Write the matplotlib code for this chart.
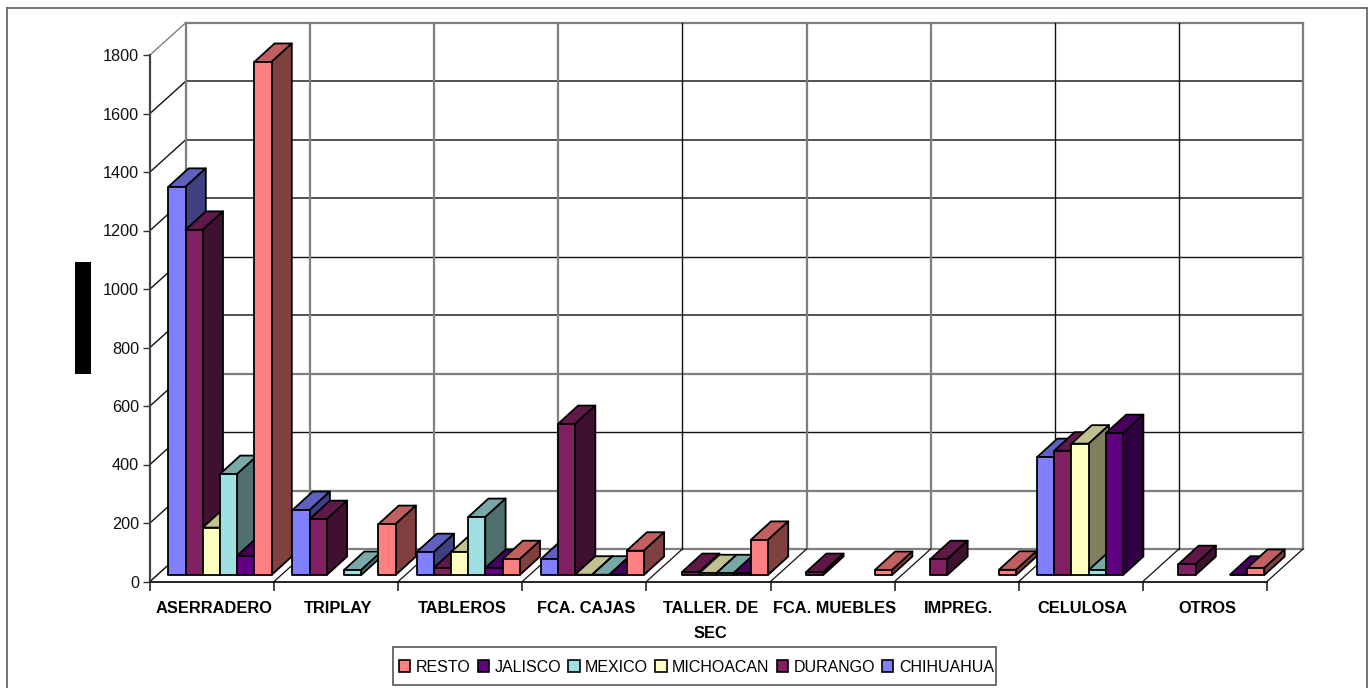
import matplotlib
matplotlib.use('Agg')
import matplotlib.pyplot as plt
from matplotlib.lines import Line2D
from matplotlib.patches import Patch, Rectangle

plt.rcParams['font.family'] = ['Liberation Sans', 'DejaVu Sans']

categories = ['ASERRADERO', 'TRIPLAY', 'TABLEROS', 'FCA. CAJAS', 'TALLER. DE\nSEC',
              'FCA. MUEBLES', 'IMPREG.', 'CELULOSA', 'OTROS']
yticks = [0, 200, 400, 600, 800, 1000, 1200, 1400, 1600, 1800]

chihuahua = [1327, 222, 78, 54, 0, 0, 0, 403, 0]
durango = [1180, 191, 24, 516, 10, 10, 54, 425, 37]
michoacan = [162, 0, 78, 1, 6, 0, 0, 449, 0]
mexico = [345, 17, 198, 1, 6, 0, 0, 17, 0]
jalisco = [66, 0, 24, 1, 6, 0, 0, 485, 1]
resto = [1754, 174, 54, 83, 120, 17, 18, 0, 24]

# nombre, valores, frente, lado, tapa
series = [
    ('CHIHUAHUA', chihuahua, '#8080FF', '#404080', '#6060C0'),
    ('DURANGO', durango, '#802060', '#401030', '#601848'),
    ('MICHOACAN', michoacan, '#FFFFC0', '#808060', '#C0C090'),
    ('MEXICO', mexico, '#A0E0E0', '#507070', '#78A8A8'),
    ('JALISCO', jalisco, '#600080', '#300040', '#480060'),
    ('RESTO', resto, '#FF8080', '#804040', '#C06060'),
]

W, H = 1371, 688
# plano frontal en pixeles
X0, X1, Y0, Y1 = 150, 1267, 581.5, 55
px_x = (X1 - X0) / 9
px_y = (Y0 - Y1) / 1800

fig = plt.figure(figsize=(W / 100, H / 100), dpi=100)
ax = fig.add_axes([X0 / W, 1 - Y0 / H, (X1 - X0) / W, (Y0 - Y1) / H])
ax.set_xlim(0, 9)
ax.set_ylim(0, 1800)
ax.patch.set_visible(False)

# profundidad de la pared y de las barras
wall_dx, wall_dy = 36 / px_x, 32.5 / px_y
bar_dx, bar_dy = 20.3 / px_x, 18.5 / px_y
base = 6.5 / px_y
start = 18.3 / px_x
bw = 17.2 / px_x

GRAY = '#7f7f7f'
DARK = '#111111'

# paredes y rejilla
for v in yticks:
    if v in (0, 200, 600, 1800):
        c, lw = GRAY, 1.6
    elif v in (400, 1000):
        c, lw = DARK, 1.0
    else:
        c, lw = '#444444', 1.3
    ax.plot([wall_dx, 9 + wall_dx], [v + wall_dy, v + wall_dy], color=c, lw=lw, clip_on=False, zorder=1)
    ax.plot([0, wall_dx], [v, v + wall_dy], color=GRAY if v in (0, 1800) else DARK, lw=1.0, clip_on=False, zorder=1)
for i in range(10):
    c, lw = (DARK, 1.0) if i in (4, 7, 8) else (GRAY, 1.6)
    ax.plot([i + wall_dx, i + wall_dx], [wall_dy, 1800 + wall_dy], color=c, lw=lw, clip_on=False, zorder=1)
    ax.plot([i, i + wall_dx], [0, wall_dy], color=DARK, lw=0.9, clip_on=False, zorder=1)

# barras, de izquierda a derecha
z = 3
for c in range(len(categories)):
    for s, (name, vals, front, side, top) in enumerate(series):
        v = vals[c]
        if v == 0:
            continue
        x = c + start + s * bw
        y = base + v
        ek = dict(edgecolor='black', linewidth=1.3, clip_on=False, joinstyle='round')
        ax.fill([x, x + bar_dx, x + bw + bar_dx, x + bw], [y, y + bar_dy, y + bar_dy, y],
                facecolor=top, zorder=z, **ek)
        ax.fill([x + bw, x + bw + bar_dx, x + bw + bar_dx, x + bw],
                [y, y + bar_dy, base + bar_dy, base], facecolor=side, zorder=z, **ek)
        ax.bar(x, v, bw, bottom=base, align='edge', color=front, zorder=z, **ek)
        z += 1

for sp in ('top', 'right'):
    ax.spines[sp].set_visible(False)
ax.spines['left'].set_color('#444444')
ax.spines['left'].set_linewidth(1.6)
ax.spines['bottom'].set_color('#111111')
ax.spines['bottom'].set_linewidth(1.3)
ax.spines['left'].set_zorder(2)
ax.spines['bottom'].set_zorder(2)

ax.set_yticks(yticks)
ax.tick_params(axis='y', length=5, width=1, color='#333333', pad=3, labelsize=11.7, labelcolor='#111111')
ax.set_xticks(range(10))
ax.set_xticklabels([])
ax.tick_params(axis='x', which='major', length=6.5, width=1.2, color='#222222')
ax.set_xticks([i + 0.5 + 2 / px_x for i in range(9)], minor=True)
ax.set_xticklabels(categories, minor=True, fontweight='bold', fontsize=11.8, linespacing=1.85)
ax.tick_params(axis='x', which='minor', length=0, pad=13.7)

# bloque negro del titulo del eje
fig.add_artist(Rectangle((75 / W, 1 - 374 / H), 16 / W, 112 / H, transform=fig.transFigure,
                         facecolor='black', edgecolor='none'))

# marco exterior
for xs, ys in [((7, 7), (H, 8)), ((7, 1366.5), (8, 8)), ((1366.5, 1366.5), (8, H))]:
    fig.add_artist(Line2D([p / W for p in xs], [1 - p / H for p in ys], color='#6a6a6a', lw=1.3))

# leyenda con marco aparte
fig.add_artist(Rectangle((393.5 / W, 1 - 685 / H), 602 / W, 38 / H, transform=fig.transFigure,
                         facecolor='white', edgecolor='#555555', linewidth=1.2))
handles = [Patch(facecolor=s[2], edgecolor='black', linewidth=1.2, label=s[0]) for s in reversed(series)]
fig.legend(handles=handles, loc='center', bbox_to_anchor=(696.5 / W, 1 - 667 / H), ncol=6,
           fontsize=11.5, frameon=False, handlelength=0.7, handleheight=0.7,
           handletextpad=0.35, columnspacing=0.45, borderpad=0.65, borderaxespad=0)

fig.savefig('out.png', dpi=100)
